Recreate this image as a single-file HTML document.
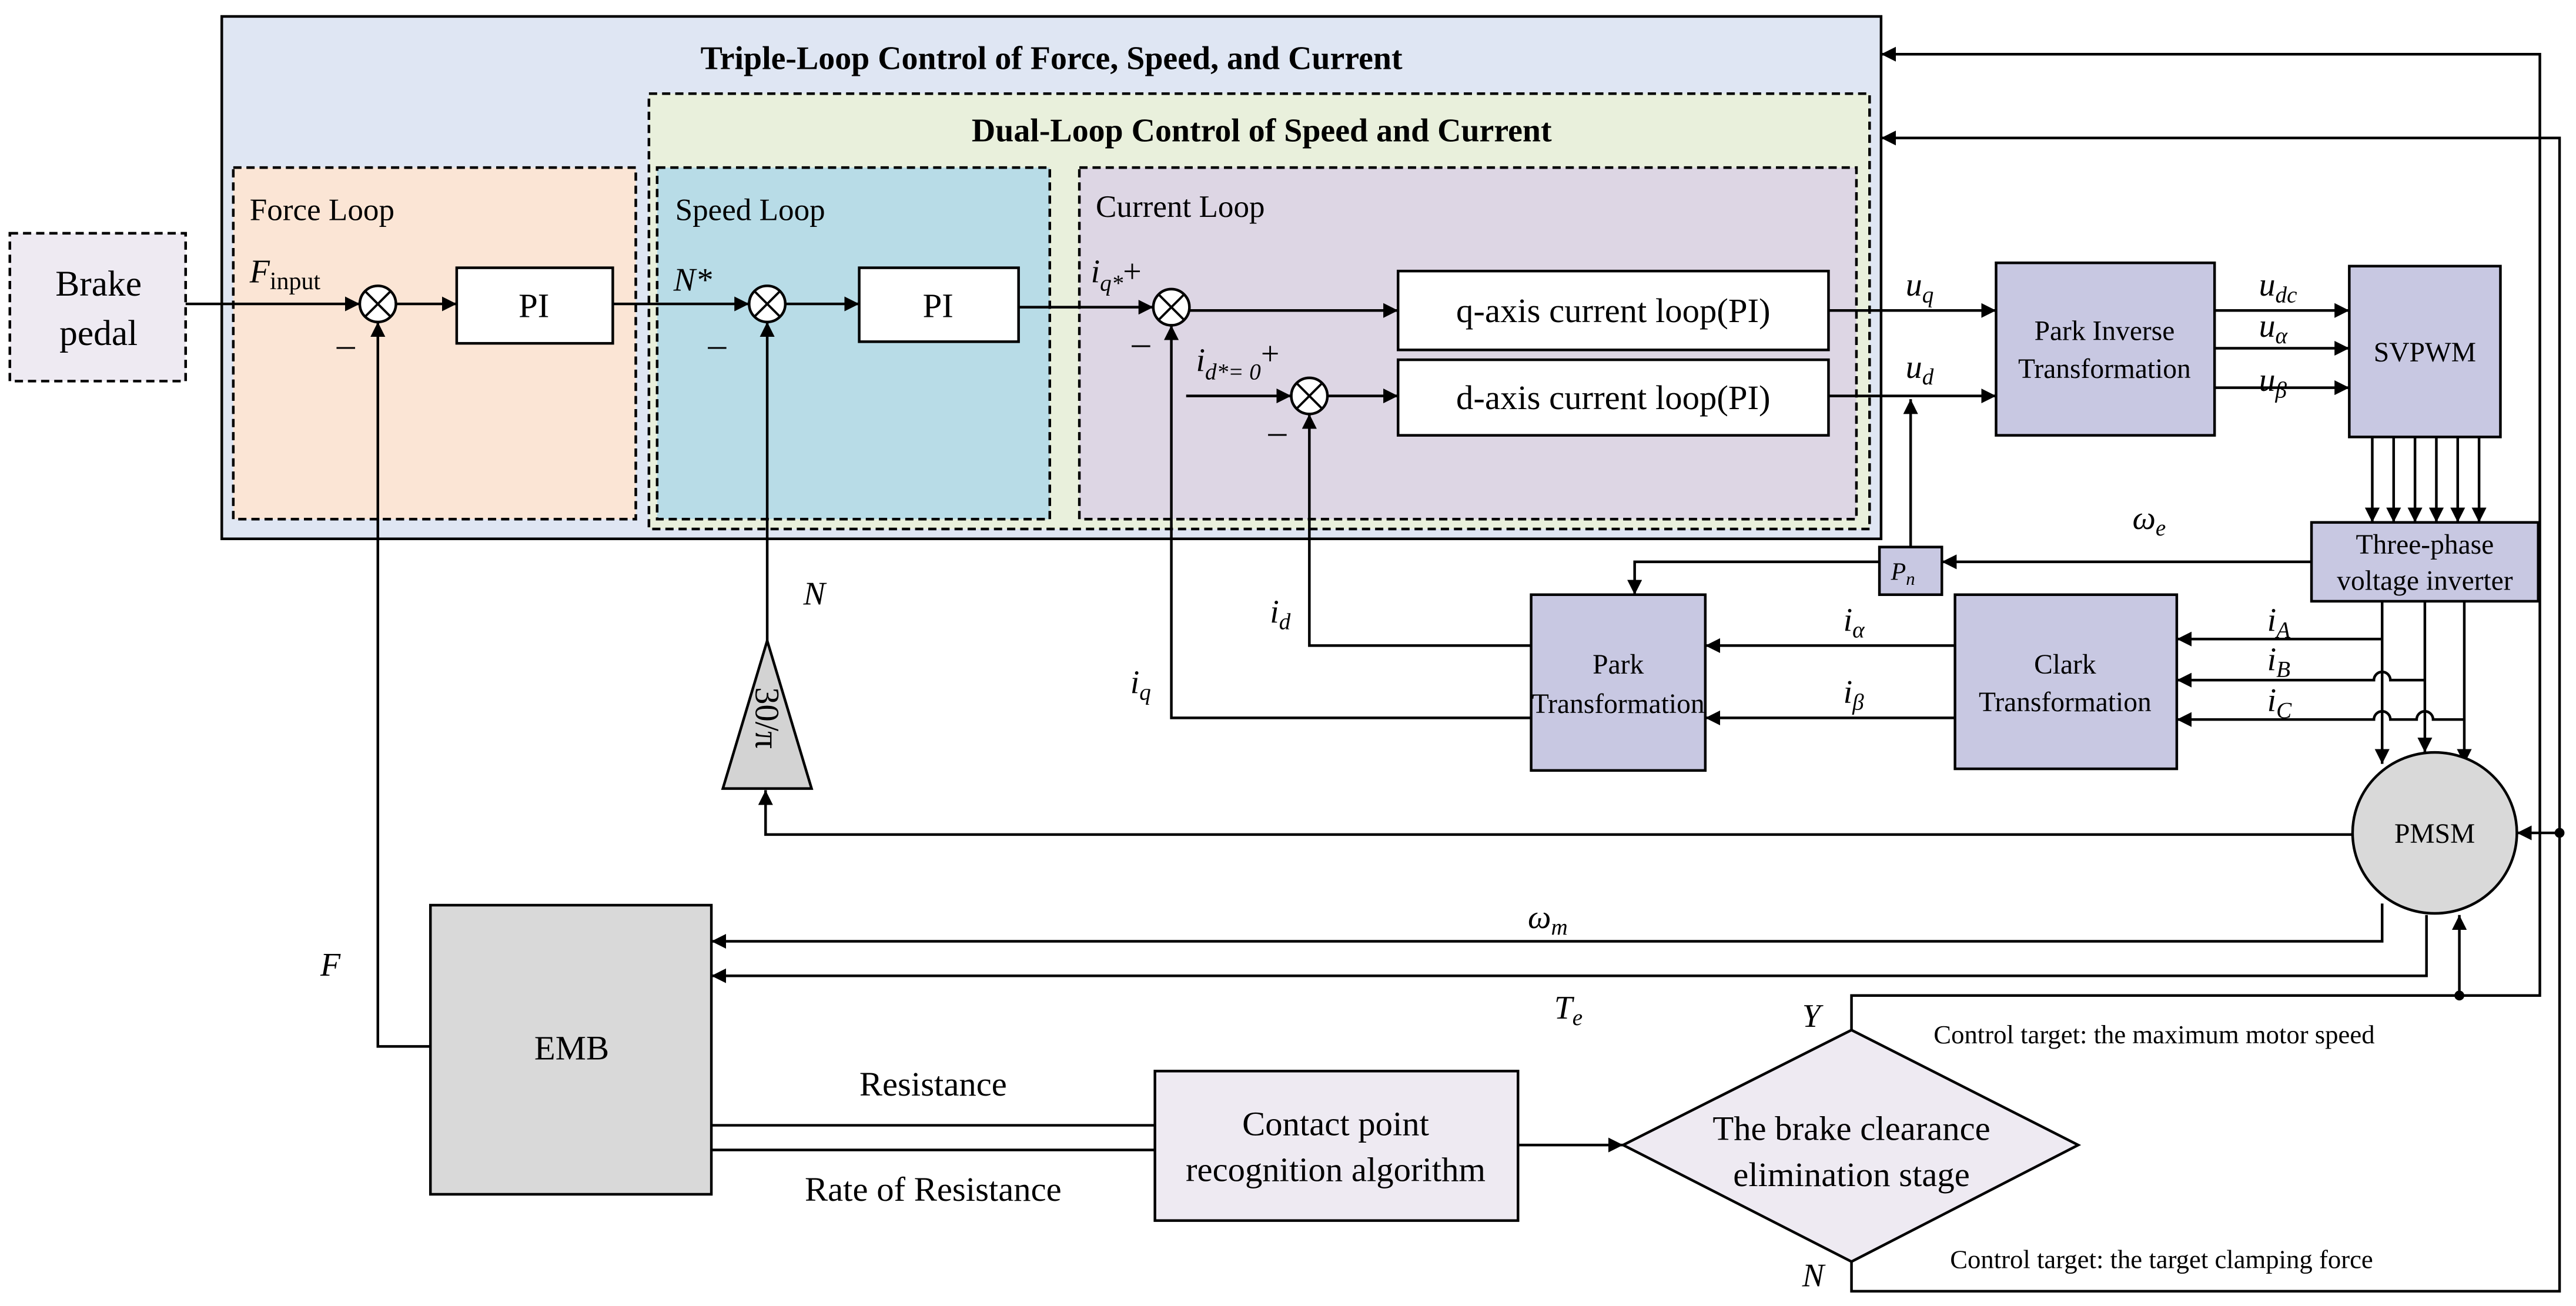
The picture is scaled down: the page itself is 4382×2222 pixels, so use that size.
<!DOCTYPE html>
<html><head><meta charset="utf-8"><style>html,body{margin:0;padding:0;background:#fff}svg{display:block}svg text{font-family:"Liberation Serif",serif}</style></head>
<body>
<svg width="4382" height="2222" viewBox="0 0 1568 795" preserveAspectRatio="none" xmlns="http://www.w3.org/2000/svg" style="font-family:'Liberation Serif',serif">
<defs>
<marker id="a" viewBox="0 0 10 10" refX="10" refY="5" markerWidth="9" markerHeight="9" markerUnits="userSpaceOnUse" orient="auto"><path d="M0,0 L10,5 L0,10 z" fill="#000"/></marker>
</defs>
<g stroke="#000" stroke-width="1.6">
<rect x="135" y="10" width="1010" height="318" fill="#dfe6f3"/>
<rect x="395" y="57" width="743" height="265" fill="#e9f0dc" stroke-dasharray="5,3"/>
<rect x="142" y="102" width="245" height="214" fill="#fbe5d5" stroke-dasharray="5,3"/>
<rect x="400" y="102" width="239" height="214" fill="#b8dce7" stroke-dasharray="5,3"/>
<rect x="657" y="102" width="473" height="214" fill="#ddd6e4" stroke-dasharray="5,3"/>
<rect x="6" y="142" width="107" height="90" fill="#eeeaf2" stroke-dasharray="5,3"/>
</g>
<g font-size="20" font-weight="bold" text-anchor="middle">
<text x="640" y="42">Triple-Loop Control of  Force, Speed, and Current</text>
<text x="768" y="86">Dual-Loop Control of Speed and Current</text>
</g>
<g font-size="19">
<text x="152" y="134">Force Loop</text>
<text x="411" y="134">Speed Loop</text>
<text x="667" y="132">Current Loop</text>
</g>
<g font-size="22" text-anchor="middle"><text x="60" y="180">Brake</text><text x="60" y="210">pedal</text></g>

<g stroke="#000" stroke-width="1.6" fill="none">
<line x1="113" y1="185" x2="219" y2="185" marker-end="url(#a)"/>
<line x1="241" y1="185" x2="278" y2="185" marker-end="url(#a)"/>
<line x1="373" y1="185" x2="456" y2="185" marker-end="url(#a)"/>
<line x1="478" y1="185" x2="523" y2="185" marker-end="url(#a)"/>
<line x1="620" y1="187" x2="702" y2="187" marker-end="url(#a)"/>
<line x1="724" y1="189" x2="851" y2="189" marker-end="url(#a)"/>
<line x1="722" y1="241" x2="786" y2="241" marker-end="url(#a)"/>
<line x1="808" y1="241" x2="851" y2="241" marker-end="url(#a)"/>
<line x1="1113" y1="189" x2="1215" y2="189" marker-end="url(#a)"/>
<line x1="1113" y1="241" x2="1215" y2="241" marker-end="url(#a)"/>
<line x1="1348" y1="189" x2="1430" y2="189" marker-end="url(#a)"/>
<line x1="1348" y1="212" x2="1430" y2="212" marker-end="url(#a)"/>
<line x1="1348" y1="236" x2="1430" y2="236" marker-end="url(#a)"/>
<line x1="1444" y1="266" x2="1444" y2="318" marker-end="url(#a)"/>
<line x1="1457" y1="266" x2="1457" y2="318" marker-end="url(#a)"/>
<line x1="1470" y1="266" x2="1470" y2="318" marker-end="url(#a)"/>
<line x1="1483" y1="266" x2="1483" y2="318" marker-end="url(#a)"/>
<line x1="1496" y1="266" x2="1496" y2="318" marker-end="url(#a)"/>
<line x1="1509" y1="266" x2="1509" y2="318" marker-end="url(#a)"/>
<line x1="1407" y1="342" x2="1182" y2="342" marker-end="url(#a)"/>
<polyline points="1144,342 995,342 995,362" marker-end="url(#a)"/>
<line x1="1163" y1="333" x2="1163" y2="243" marker-end="url(#a)"/>
<line x1="1450" y1="366" x2="1450" y2="465" marker-end="url(#a)"/>
<line x1="1476" y1="366" x2="1476" y2="458" marker-end="url(#a)"/>
<line x1="1500" y1="366" x2="1500" y2="465" marker-end="url(#a)"/>
<line x1="1450" y1="389" x2="1325" y2="389" marker-end="url(#a)"/>
<path d="M1476,414 L1455,414 A5,5 0 0 0 1445,414 L1325,414" marker-end="url(#a)"/>
<path d="M1500,438 L1481,438 A5,5 0 0 0 1471,438 L1455,438 A5,5 0 0 0 1445,438 L1325,438" marker-end="url(#a)"/>
<line x1="1190" y1="393" x2="1038" y2="393" marker-end="url(#a)"/>
<line x1="1190" y1="437" x2="1038" y2="437" marker-end="url(#a)"/>
<polyline points="932,393 797,393 797,252" marker-end="url(#a)"/>
<polyline points="932,437 713,437 713,198" marker-end="url(#a)"/>
<polyline points="1432,508 466,508 466,481" marker-end="url(#a)"/>
<line x1="467" y1="390" x2="467" y2="196" marker-end="url(#a)"/>
<polyline points="262,637 230,637 230,196" marker-end="url(#a)"/>
<polyline points="1450,550 1450,573 433,573" marker-end="url(#a)"/>
<polyline points="1477,557 1477,594 433,594" marker-end="url(#a)"/>
<line x1="703" y1="685" x2="433" y2="685"/>
<line x1="703" y1="700" x2="433" y2="700"/>
<line x1="924" y1="697" x2="988" y2="697" marker-end="url(#a)"/>
<polyline points="1127,627 1127,606 1546,606 1546,33 1145,33" marker-end="url(#a)"/>
<line x1="1497" y1="606" x2="1497" y2="557" marker-end="url(#a)"/>
<polyline points="1127,768 1127,786 1558,786 1558,84 1145,84" marker-end="url(#a)"/>
<line x1="1558" y1="507" x2="1532" y2="507" marker-end="url(#a)"/>
</g>
<circle cx="1497" cy="606" r="3" fill="#000"/>
<circle cx="1558" cy="507" r="3" fill="#000"/>

<g stroke="#000" stroke-width="1.6" fill="#fff">
<circle cx="230" cy="185" r="11"/><circle cx="467" cy="185" r="11"/><circle cx="713" cy="187" r="11"/><circle cx="797" cy="241" r="11"/>
</g>
<g stroke="#000" stroke-width="1.4">
<path d="M222,177 L238,193 M238,177 L222,193"/>
<path d="M459,177 L475,193 M475,177 L459,193"/>
<path d="M705,179 L721,195 M721,179 L705,195"/>
<path d="M789,233 L805,249 M805,233 L789,249"/>
</g>

<g stroke="#000" stroke-width="1.6">
<rect x="278" y="163" width="95" height="46" fill="#fff"/>
<rect x="523" y="163" width="97" height="45" fill="#fff"/>
<rect x="851" y="165" width="262" height="48" fill="#fff"/>
<rect x="851" y="219" width="262" height="46" fill="#fff"/>
<rect x="1215" y="160" width="133" height="105" fill="#c8c8e2"/>
<rect x="1430" y="162" width="92" height="104" fill="#c8c8e2"/>
<rect x="1407" y="318" width="138" height="48" fill="#c8c8e2"/>
<rect x="1144" y="333" width="38" height="29" fill="#c8c8e2"/>
<rect x="932" y="362" width="106" height="107" fill="#c8c8e2"/>
<rect x="1190" y="362" width="135" height="106" fill="#c8c8e2"/>
<ellipse cx="1482" cy="507" rx="50" ry="49" fill="#d9d9d9"/>
<polygon points="467,390 440,480 494,480" fill="#d3d3d3"/>
<rect x="262" y="551" width="171" height="176" fill="#d9d9d9"/>
<rect x="703" y="652" width="221" height="91" fill="#eeeaf2"/>
<polygon points="988,697 1127,627 1265,697 1127,768" fill="#eeeaf2"/>
</g>

<g text-anchor="middle" font-size="21">
<text x="325" y="193">PI</text>
<text x="571" y="193">PI</text>
<text x="982" y="196">q-axis current loop(PI)</text>
<text x="982" y="249">d-axis current loop(PI)</text>
<text x="348" y="645">EMB</text>
<text x="813" y="691">Contact point</text>
<text x="813" y="719">recognition algorithm</text>
<text x="1127" y="694">The brake clearance</text>
<text x="1127" y="722">elimination stage</text>
</g>
<g text-anchor="middle" font-size="17">
<text x="1281" y="207">Park Inverse</text>
<text x="1281" y="230">Transformation</text>
<text x="1476" y="220">SVPWM</text>
<text x="1476" y="337">Three-phase</text>
<text x="1476" y="359">voltage inverter</text>
<text x="985" y="410">Park</text>
<text x="985" y="434">Transformation</text>
<text x="1257" y="410">Clark</text>
<text x="1257" y="433">Transformation</text>
<text x="1482" y="513">PMSM</text>
</g>
<text transform="translate(460,437) rotate(90)" font-size="21" text-anchor="middle">30/π</text>

<g font-size="20" font-style="italic">
<text x="152" y="172">F<tspan font-style="normal" font-size="15" dy="4">input</tspan></text>
<text x="410" y="177">N*</text>
<text x="664" y="172">i<tspan font-size="14" dy="5">q*</tspan><tspan font-style="normal" dy="-5">+</tspan></text>
<text x="728" y="226">i<tspan font-size="14" dy="5">d*= 0</tspan><tspan font-style="normal" font-size="20" dy="-9">+</tspan></text>
<text x="1160" y="180">u<tspan font-size="14" dy="4">q</tspan></text>
<text x="1160" y="230">u<tspan font-size="14" dy="4">d</tspan></text>
<text x="1375" y="180">u<tspan font-size="14" dy="4">dc</tspan></text>
<text x="1375" y="205">u<tspan font-size="14" dy="4">α</tspan></text>
<text x="1375" y="238">u<tspan font-size="14" dy="4">β</tspan></text>
<text x="1298" y="322">ω<tspan font-size="14" dy="4">e</tspan></text>
<text x="1151" y="353" font-size="15">P<tspan font-size="11" dy="3">n</tspan></text>
<text x="1380" y="384">i<tspan font-size="14" dy="4">A</tspan></text>
<text x="1380" y="408">i<tspan font-size="14" dy="4">B</tspan></text>
<text x="1380" y="433">i<tspan font-size="14" dy="4">C</tspan></text>
<text x="1122" y="384">i<tspan font-size="14" dy="4">α</tspan></text>
<text x="1122" y="428">i<tspan font-size="14" dy="4">β</tspan></text>
<text x="773" y="379">i<tspan font-size="14" dy="4">d</tspan></text>
<text x="688" y="422">i<tspan font-size="14" dy="4">q</tspan></text>
<text x="489" y="368">N</text>
<text x="195" y="594">F</text>
<text x="930" y="565">ω<tspan font-size="14" dy="4">m</tspan></text>
<text x="946" y="620">T<tspan font-size="14" dy="4">e</tspan></text>
<text x="1097" y="625">Y</text>
<text x="1097" y="783">N</text>
</g>
<g font-size="22">
<text x="205" y="217">–</text><text x="431" y="217">–</text><text x="689" y="216">–</text><text x="772" y="270">–</text>
</g>
<g font-size="21" text-anchor="middle">
<text x="568" y="667">Resistance</text>
<text x="568" y="731">Rate of Resistance</text>
</g>
<g font-size="16">
<text x="1177" y="635">Control target: the maximum motor speed</text>
<text x="1187" y="772">Control target: the target clamping force</text>
</g>
</svg>
</body></html>
